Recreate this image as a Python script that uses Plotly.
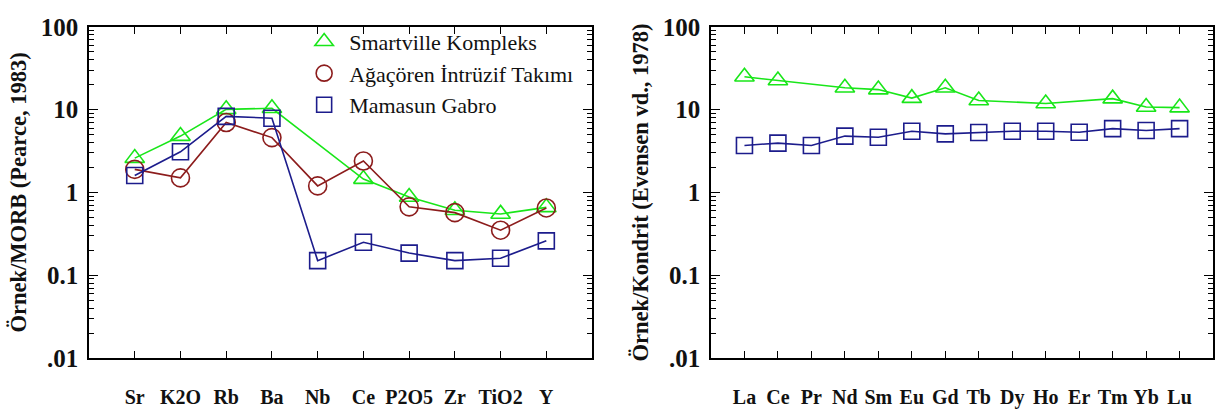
import plotly.graph_objects as go

# Trace elements normalised to MORB (Pearce, 1983)
spider_elems = ["Sr", "K2O", "Rb", "Ba", "Nb", "Ce", "P2O5", "Zr", "TiO2", "Y"]
smartville_morb = [2.6, 4.8, 10.1, 10.4, None, 1.45, 0.88, 0.61, 0.55, 0.66]
agacoren_morb = [1.9, 1.5, 7.0, 4.6, 1.2, 2.4, 0.67, 0.57, 0.35, 0.65]
mamasun_morb = [1.6, 3.1, 8.3, 7.9, 0.15, 0.25, 0.185, 0.15, 0.16, 0.26]

# Rare earth elements normalised to chondrite (Evensen et al., 1978)
ree_elems = ["La", "Ce", "Pr", "Nd", "Sm", "Eu", "Gd", "Tb", "Dy", "Ho", "Er", "Tm", "Yb", "Lu"]
smartville_ree = [25, 22.5, None, 18.4, 17.5, 13.8, 18.4, 12.9, None, 11.9, None, 13.6, 10.8, 10.6]
mamasun_ree = [3.7, 3.95, 3.7, 4.8, 4.65, 5.5, 5.1, 5.3, 5.5, 5.5, 5.35, 5.9, 5.6, 5.9]

series_names = ["Smartville Kompleks", "Ağaçören İntrüzif Takımı", "Mamasun Gabro"]

GREEN = "#19e619"
RED = "#8c1c1c"
BLUE = "#1c1c8c"
SERIF = "Liberation Serif"
INK = "#111"

styles = [
    dict(color=GREEN, symbol="triangle-up-open", size=17),
    dict(color=RED, symbol="circle-open", size=18),
    dict(color=BLUE, symbol="square-open", size=16),
]

fig = go.Figure()


def add_series(x, y, style, xa, ya):
    fig.add_trace(go.Scatter(
        x=x, y=y, mode="lines+markers", connectgaps=True, showlegend=False,
        line=dict(color=style["color"], width=1.6),
        marker=dict(symbol=style["symbol"], size=style["size"],
                    color=style["color"], line=dict(width=1.6, color=style["color"])),
        xaxis=xa, yaxis=ya,
    ))


add_series(spider_elems, smartville_morb, styles[0], "x", "y")
add_series(spider_elems, agacoren_morb, styles[1], "x", "y")
add_series(spider_elems, mamasun_morb, styles[2], "x", "y")
add_series(ree_elems, smartville_ree, styles[0], "x2", "y2")
add_series(ree_elems, mamasun_ree, styles[2], "x2", "y2")

# legend entries show the symbol only
for name, style in zip(series_names, styles):
    fig.add_trace(go.Scatter(
        x=[None], y=[None], mode="markers", name=name,
        marker=dict(symbol=style["symbol"], size=style["size"] - 1,
                    color=style["color"], line=dict(width=1.6, color=style["color"])),
        xaxis="x", yaxis="y",
    ))

y_dom = [0.111, 0.964]
minor_vals = [m * 10 ** e for e in range(-2, 2) for m in range(2, 10)]

common_y = dict(
    type="log", range=[-2, 2], tickvals=[0.01, 0.1, 1, 10, 100],
    ticktext=[".01", "0.1", "1", "10", "100"],
    ticks="inside", ticklen=9, tickwidth=1.2, tickcolor="black",
    minor=dict(tickvals=minor_vals, ticks="inside", ticklen=5, tickwidth=1, tickcolor="black"),
    showline=True, linecolor="black", linewidth=1.5, mirror="allticks",
    showgrid=False, zeroline=False,
    tickfont=dict(family=SERIF, size=25, color=INK, weight="bold"),
    domain=y_dom, ticklabelstandoff=4,
)
common_x = dict(
    type="category", ticks="inside", ticklen=7, tickwidth=1.2, tickcolor="black",
    showline=True, linecolor="black", linewidth=1.5, mirror="allticks",
    showgrid=False, zeroline=False,
    tickfont=dict(family=SERIF, size=20, color=INK, weight="bold"),
    ticklabelstandoff=20,
)
title_font = dict(family=SERIF, size=22.5, color=INK, weight="bold")

fig.update_layout(
    width=1221, height=415,
    margin=dict(l=0, r=0, t=0, b=0),
    paper_bgcolor="white", plot_bgcolor="white",
    xaxis=dict(common_x, domain=[0.0729, 0.4849], range=[-1, 10], anchor="y"),
    yaxis=dict(common_y, anchor="x",
               title=dict(text="Örnek/MORB (Pearce, 1983)", standoff=8, font=title_font)),
    xaxis2=dict(common_x, domain=[0.5823, 0.9935], range=[-1, 14], anchor="y2"),
    yaxis2=dict(common_y, anchor="x2",
                title=dict(text="Örnek/Kondrit (Evensen vd., 1978)", standoff=8, font=title_font)),
    legend=dict(x=0.245, y=0.98, xanchor="left", yanchor="top",
                bgcolor="rgba(0,0,0,0)", borderwidth=0, tracegroupgap=0,
                itemwidth=40,
                font=dict(family=SERIF, size=22, color=INK)),
)

fig.write_html("out.html")
